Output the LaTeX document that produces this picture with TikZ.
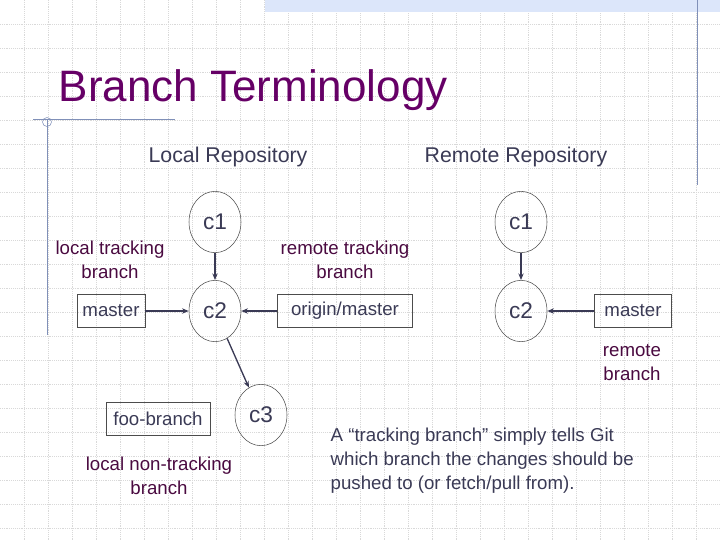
\documentclass[tikz,border=0pt]{standalone}
\usepackage{fontspec}
\setmainfont{Liberation Sans}
\usetikzlibrary{positioning,arrows.meta,shapes.geometric}
\definecolor{titlepurple}{HTML}{660066}
\definecolor{labelpurple}{HTML}{4A0A40}
\definecolor{headgray}{HTML}{3A3A55}
\definecolor{rulecol}{HTML}{8090B8}
\definecolor{bandblue}{HTML}{DCE6FA}
\tikzset{
  commit/.style={draw=black!70, ellipse, minimum width=39pt, minimum height=46pt, inner sep=0pt, font=\fontsize{17}{18}\selectfont, text=headgray},
  branch/.style={draw=black!70, rectangle, minimum height=25pt, inner xsep=4pt, font=\fontsize{14}{15}\selectfont, text=headgray},
  note/.style={align=center, text=labelpurple, font=\fontsize{14}{18}\selectfont},
  link/.style={draw=headgray, line width=1pt, -{Stealth[length=5pt,width=4pt]}}
}
\begin{document}
\begin{tikzpicture}[x=0.75pt,y=-0.75pt]
  \useasboundingbox (0,0) rectangle (720,540);
  % background
  \foreach \g in {24,48,...,720} \draw[black!15, densely dotted] (\g,0) -- (\g,540);
  \foreach \g in {24,48,...,528} \draw[black!15, densely dotted] (0,\g) -- (720,\g);
  \fill[bandblue] (265,0) rectangle (720,12);
  \draw[rulecol] (697,0) -- (697,185);
  \draw[rulecol] (33,119) -- (175,119);
  \draw[rulecol] (47,119) -- (47,335);
  \draw[rulecol] (47,122) circle[radius=4.5];

  \node[anchor=base west, text=titlepurple, font=\fontsize{33}{36}\selectfont] (title) at (54,101) {Branch Terminology};
  \node[text=headgray, font=\fontsize{16}{18}\selectfont] (local) at (228,157) {Local Repository};
  \node[text=headgray, font=\fontsize{16}{18}\selectfont] (remote) at (516,157) {Remote Repository};

  % commits
  \node[commit] (c1) at (215,222) {c1};
  \node[commit] (c2) at (215,311) {c2};
  \node[commit] (c3) at (261,415) {c3};
  \node[commit] (rc1) at (521,222) {c1};
  \node[commit] (rc2) at (521,311) {c2};

  % branches
  \node[branch, minimum width=50pt] (master) at (111,311) {master};
  \node[branch, minimum width=101pt] (origin) at (345,311) {origin/master};
  \node[branch, minimum width=58pt] (rmaster) at (633,311) {master};
  \node[branch, minimum width=78pt] (foo) at (158,419) {foo-branch};

  \draw[link] (c1) -- (c2);
  \draw[link] (c2) -- (c3);
  \draw[link] (rc1) -- (rc2);
  \draw[link] (master) -- (c2);
  \draw[link] (origin) -- (c2);
  \draw[link] (rmaster) -- (rc2);

  % labels
  \node[note] (lt) at (110,260) {local tracking\\branch};
  \node[note] (rt) at (345,260) {remote tracking\\branch};
  \node[note] (rb) at (632,363) {remote\\branch};
  \node[note] (lnt) at (159,476) {local non-tracking\\branch};
  \node[anchor=north west, align=left, text=headgray, font=\fontsize{14}{18}\selectfont] (txt) at (326,423)
    {A “tracking branch” simply tells Git\\which branch the changes should be\\pushed to (or fetch/pull from).};
\end{tikzpicture}
\end{document}
